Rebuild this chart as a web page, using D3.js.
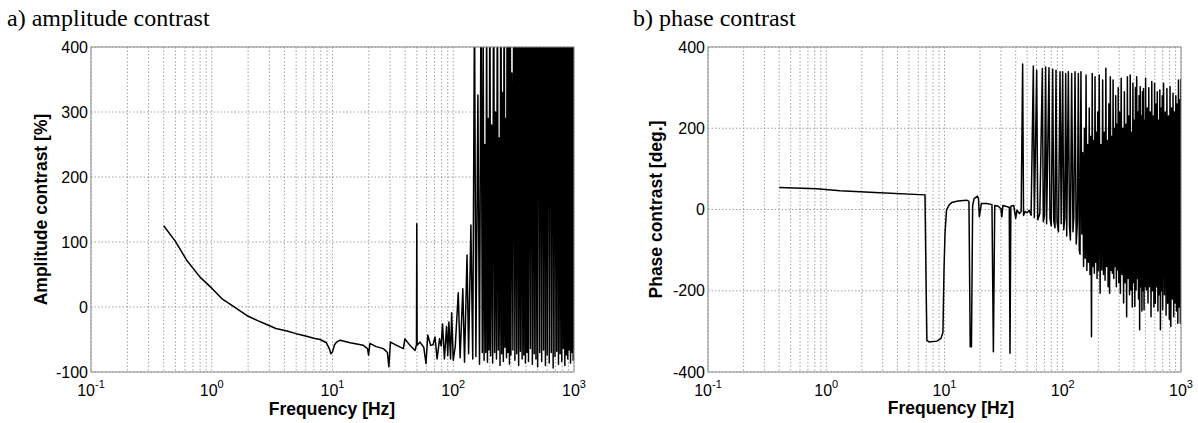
<!DOCTYPE html>
<html>
<head>
<meta charset="utf-8">
<script src="https://cdn.jsdelivr.net/npm/d3@7"></script>
<style>
  body { margin: 0; background: #fff; }
  .tick-label { font-family: "Liberation Sans", Arial, sans-serif; font-size: 16px; fill: #000; }
  .axis-title { font-family: "Liberation Sans", Arial, sans-serif; font-size: 17.5px; font-weight: bold; fill: #000; }
  .panel-title { font-family: "Liberation Serif", "Times New Roman", serif; font-size: 24px; fill: #000; }
  .grid line { stroke: #8c8c8c; stroke-width: 0.8; stroke-dasharray: 1.5,2; }
  .frame { fill: none; stroke: #8a8a8a; stroke-width: 1; }
  .curve { fill: none; stroke: #000; stroke-width: 1.5; stroke-linejoin: round; }
</style>
</head>
<body>
<svg id="fig" width="1198" height="423"></svg>
<script>
// frequency axis is shared by both panels
const freqTicks = [0.1, 1, 10, 100, 1000]
const freqExps = ['-1', '0', '1', '2', '3']
const ampTicks = [-100, 0, 100, 200, 300, 400]
const phaseTicks = [-400, -200, 0, 200, 400]

// [frequency Hz, amplitude contrast %]
// above ~150 Hz the trace is a forest of spikes, values over 400 get clipped
const ampData = [
  [0.4,125],[0.5,101],[0.62,72],[0.8,46],[1.0,29],[1.21,13],[1.51,1],[1.95,-13],[2.4,-21],[2.85,-27],
  [3.4,-33],[4.2,-37],[5,-41],[6.1,-45],[7,-48],[7.9,-50],[8.9,-55],[9.4,-64],[9.7,-72],[10.0,-69],
  [10.4,-58],[10.8,-54],[11.6,-51],[14,-55],[18,-59],[19.5,-64],[19.9,-74],[20.4,-56],[23,-61],[26.4,-64],
  [28.5,-70],[29.3,-92],[30.2,-54],[34,-59],[38.6,-64],[39.8,-49],[43.8,-59],[48.2,-67],[49.6,-58],[49.9,128],
  [50.2,-59],[53,-54],[57,-62],[59.5,-87],[61.5,-43],[65,-59],[68,-58],[70.6,-46],[73.5,-80],[77,-49],
  [79.5,-60],[81.5,-26],[84.5,-80],[88,-30],[90,-75],[92,-23],[95,-80],[97,-9],[100,-82],[104,-60],
  [110,22],[114,-78],[120,28],[124,-85],[130,80],[134,-72],[140,126],[145,-80],[150,470],[154,-76],
  [160,326],[165,-88],[170,520],[174,-70],[177,420],[180,-82],[183,250],[186,-70],[189,480],[192,-85],
  [195,290],[198,-66],[201,560],[204,-75],[208,280],[212,-86],[216,600],[220,-70],[224,300],[228,-80],
  [232,540],[236,-66],[240,260],[244,-90],[248,620],[252,-72],[256,330],[260,-84],[264,580],[268,-62],
  [272,290],[276,-78],[280,650],[284,-70],[288,420],[292,-88],[296,600],[300,-74],[306,360],[312,-66],
  [318,700],[324,-82],[330,520],[336,-72],[342,680],[348,-90],[354,450],[360,-68],[366,720],[372,-80],
  [378,500],[384,-74],[390,760],[396,-86],[402,700],[408,-70],[414,780],[420,-84],[428,640],[436,-64],
  [444,800],[452,-88],[460,740],[468,-72],[476,820],[484,-80],[492,700],[500,-92],[510,860],[520,-70],
  [530,760],[540,-84],[550,880],[560,-66],[570,800],[580,-90],[590,900],[600,-74],[612,820],[624,-86],
  [636,920],[648,-70],[660,860],[672,-94],[684,900],[696,-76],[708,880],[720,-68],[732,940],[744,-88],
  [756,900],[768,-72],[780,960],[792,-84],[804,920],[816,-64],[828,980],[840,-90],[852,900],[864,-74],
  [876,940],[888,-80],[900,1000],[912,-66],[924,960],[936,-86],[948,980],[960,-70],[972,920],[984,-82],
  [996,1000],[1000,-62]
]

// [frequency Hz, phase contrast deg.]
const phaseData = [
  [0.4,54],[0.83,51],[1.31,46],[2.85,41],[6.84,36],[7.0,-200],[7.1,-322],[7.4,-326],[8.6,-324],[9.3,-318],
  [9.7,-303],[9.9,-150],[10.1,-59],[10.4,-1],[11,12],[11.5,17],[13,21],[15.4,23],[16.1,20],[16.5,-338],
  [16.9,-338],[17.3,10],[17.8,27],[19,33],[19.4,25],[19.7,-18],[20.5,15],[22.7,15],[25.2,12],[25.9,-350],
  [26.6,10],[28.5,8],[30,2],[30.5,-18],[31.2,10],[34,7],[35.3,5],[35.8,-354],[36.4,8],[38.5,10],
  [40,-22],[41,-2],[43,-10],[44.5,-5],[45.8,358],[46.6,-15],[48,-5],[50,-8],[52,-2],[54,-14],
  [56.4,353],[57.5,-20],[60.2,343],[61.5,-25],[64,-10],[67.2,347],[68.5,-30],[70,-15],[71.7,351],[73,-35],
  [76.5,349],[78,-22],[80,-40],[82.2,345],[84,-28],[86,-45],[87.7,343],[89.5,-30],[92,-55],[94.8,339],
  [97,-35],[99.8,339],[102,-50],[104,-20],[105.9,335],[108,-65],[111.5,339],[114,-40],[116,-75],[118.9,335],
  [122,-55],[124,-20],[127,339],[130,-85],[133,-30],[135.5,335],[138,-100],
  // dense part, alternating tops and bottoms
  [140,-110],[142.5,339],[145,-60],[147.5,140],[150,-140],[152.5,200],[155,-120],[157.5,331],[160,-150],[162.5,160],
  [165,-130],[167.5,250],[170,-160],[172.5,180],[175,-313],[177.5,335],[180,-140],[182.5,170],[185,-157],[187.5,327],
  [190,-130],[192.5,190],[195,-170],[197.5,240],[200,-150],[203.5,331],[207,-206],[210.5,160],[214,-149],[217.5,319],
  [221,-160],[224.5,190],[228,-174],[231.5,348],[235,-140],[238.5,170],[242,-190],[245.5,260],[249,-206],[252.5,327],
  [256,-150],[259.5,180],[263,-157],[266.5,319],[270,-170],[273.5,200],[277,-140],[280.5,280],[284,-190],[287.5,210],
  [291,-149],[294.5,300],[298,-180],[302,240],[307,-206],[312,323],[317,-160],[322,200],[327,-230],[332,290],
  [337,-180],[342,210],[347,-264],[352,327],[357,-170],[362,230],[367,-210],[372,331],[377,-198],[382,190],
  [387,-240],[392,311],[397,-180],[402,220],[407,-239],[412,300],[417,-198],[422,327],[427,-170],[432,240],
  [437,-220],[442,280],[447,-296],[452,302],[457,-190],[462,230],[467,-250],[472,290],[477,-200],[482,298],
  [487,-247],[492,220],[497,-190],[502,323],[510,-198],[518,250],[526,-230],[534,300],[542,-190],[550,240],
  [558,-264],[566,315],[574,-200],[582,230],[590,-240],[598,311],[606,-231],[614,260],[622,-190],[630,290],
  [638,-250],[646,220],[654,-210],[662,294],[670,-296],[678,250],[686,-200],[694,280],[700,-247],[712,311],
  [724,-210],[736,240],[748,-260],[760,298],[772,-231],[784,230],[796,-270],[808,302],[820,-288],[832,250],
  [844,-220],[856,286],[868,-264],[880,240],[892,-230],[904,280],[916,-250],[928,260],[940,-280],[952,319],
  [964,-240],[976,270],[988,-280],[995,320],[1000,-280]
]

class ContrastPlot {
  constructor(svg, id, box, yDomain, yTicks, data) {
    this.svg = svg
    this.id = id
    this.box = box
    this.yTicks = yTicks
    this.data = data
    this.x = d3.scaleLog().domain([0.1, 1000]).range([box.left, box.right])
    this.y = d3.scaleLinear().domain(yDomain).range([box.bottom, box.top])
    this.g = svg.append('g').attr('id', id)
    this.drawGrid()
    this.drawCurve()
    this.drawFrame()
    this.drawTickLabels()
  }
  drawGrid() {
    // log scale ticks() over 4 decades hands back 1..9 of every decade, i.e. the minor grid too
    let grid = this.g.append('g').attr('class', 'grid')
    grid.selectAll('line.v')
        .data(this.x.ticks())
        .join('line')
        .attr('class', 'v')
        .attr('x1', d => this.x(d)).attr('x2', d => this.x(d))
        .attr('y1', this.box.top).attr('y2', this.box.bottom)
    grid.selectAll('line.h')
        .data(this.yTicks)
        .join('line')
        .attr('class', 'h')
        .attr('x1', this.box.left).attr('x2', this.box.right)
        .attr('y1', d => this.y(d)).attr('y2', d => this.y(d))
  }
  drawCurve() {
    let clipId = this.id + '-clip'
    this.g.append('clipPath')
          .attr('id', clipId)
          .append('rect')
          .attr('x', this.box.left).attr('y', this.box.top)
          .attr('width', this.box.right - this.box.left)
          .attr('height', this.box.bottom - this.box.top)
    let line = d3.line()
                 .x(d => this.x(d[0]))
                 .y(d => this.y(d[1]))
    this.g.append('path')
          .attr('class', 'curve')
          .attr('clip-path', 'url(#' + clipId + ')')
          .attr('d', line(this.data))
  }
  drawFrame() {
    this.g.append('rect')
          .attr('class', 'frame')
          .attr('x', this.box.left).attr('y', this.box.top)
          .attr('width', this.box.right - this.box.left)
          .attr('height', this.box.bottom - this.box.top)
  }
  drawTickLabels() {
    this.g.selectAll('text.ytick')
          .data(this.yTicks)
          .join('text')
          .attr('class', 'tick-label ytick')
          .attr('x', this.box.left - 3)
          .attr('y', d => this.y(d))
          .attr('dy', '0.35em')
          .attr('text-anchor', 'end')
          .text(d => d)
    // 10 with a raised exponent, centred as a whole under the tick
    let xt = this.g.selectAll('text.xtick')
                   .data(freqTicks)
                   .join('text')
                   .attr('class', 'tick-label xtick')
                   .attr('x', d => this.x(d))
                   .attr('y', this.box.bottom + 24)
                   .attr('text-anchor', 'middle')
    xt.append('tspan').text('10')
    xt.append('tspan')
      .attr('dy', -8)
      .attr('font-size', 11)
      .text((d, i) => freqExps[i])
  }
  label(title, titleX, yTitle, yTitleX, xTitleX, xTitleY) {
    this.svg.append('text')
            .attr('class', 'panel-title')
            .attr('x', titleX).attr('y', 26)
            .text(title)
    this.svg.append('text')
            .attr('class', 'axis-title')
            .attr('transform', 'translate(' + yTitleX + ',' + (this.box.top + this.box.bottom) / 2 + ') rotate(-90)')
            .attr('text-anchor', 'middle')
            .text(yTitle)
    this.svg.append('text')
            .attr('class', 'axis-title')
            .attr('x', xTitleX).attr('y', xTitleY)
            .attr('text-anchor', 'middle')
            .text('Frequency [Hz]')
  }
}

const svg = d3.select('#fig')

let amp = new ContrastPlot(svg, 'amp', {left: 91, top: 47, right: 574, bottom: 372}, [-100, 400], ampTicks, ampData)
amp.label('a) amplitude contrast', 7, 'Amplitude contrast [%]', 47, 332, 415)

let phase = new ContrastPlot(svg, 'phase', {left: 708, top: 47, right: 1181, bottom: 372}, [-400, 400], phaseTicks, phaseData)
phase.label('b) phase contrast', 633, 'Phase contrast [deg.]', 662, 951, 414)
</script>
</body>
</html>
